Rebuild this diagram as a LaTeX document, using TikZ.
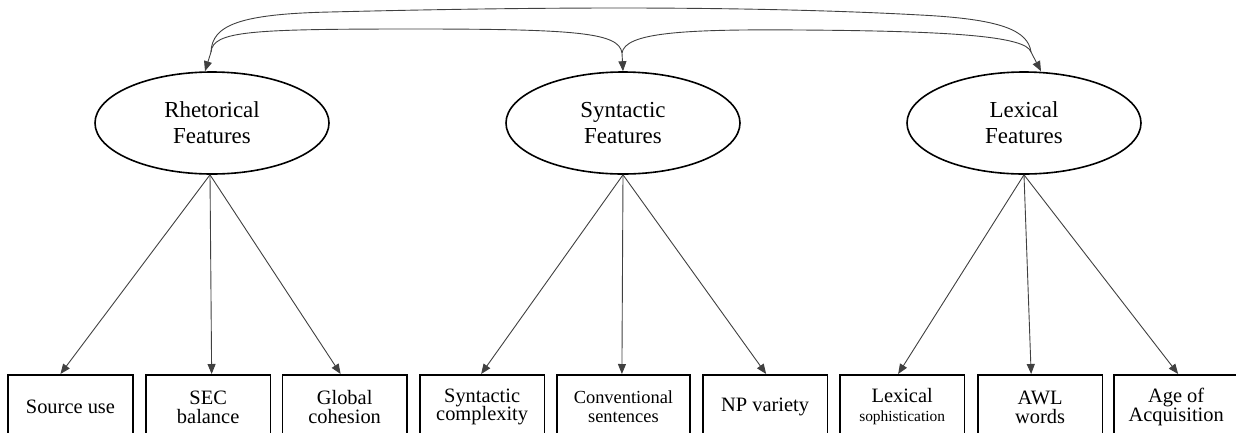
\documentclass[tikz,border=0pt]{standalone}
\usepackage{fontspec}
\setmainfont{Liberation Serif}
\newfontfamily\diagramfont{Liberation Serif}
\usetikzlibrary{arrows.meta,shapes.geometric}
\begin{document}
\begin{tikzpicture}[x=1bp,y=-1bp,
  every node/.style={font=\diagramfont},
  latent/.style={draw, line width=1.6bp, ellipse, minimum width=234bp, minimum height=102bp,
    inner sep=0pt, align=center, font=\diagramfont\fontsize{23}{26}\selectfont},
  indicator/.style={draw, line width=1.8bp, minimum width=124.5bp, minimum height=64bp,
    inner sep=0pt, anchor=north west, align=center, font=\diagramfont\fontsize{20.5}{19}\selectfont},
  load/.style={draw=black!75, line width=0.9bp, -{Triangle[length=10bp,width=8bp]}},
  cov/.style={draw=black!75, line width=0.9bp}]
\path[use as bounding box] (0,0) rectangle (1236,432);
\clip (0,0) rectangle (1236,432);

% latent factors
\node[latent] (R) at (212,123) {Rhetorical\\Features};
\node[latent] (S) at (623,123) {Syntactic\\Features};
\node[latent] (L) at (1024,123) {Lexical\\Features};

% observed indicators
\node[indicator] (b1) at (7.3,374) {Source use};
\node[indicator] (b2) at (145,374) {SEC\\balance};
\node[indicator] (b3) at (281.5,374) {Global\\cohesion};
\node[indicator] (b4) at (419,374) {Syntactic\\complexity};
\node[indicator, minimum width=133bp, font=\diagramfont\fontsize{18.5}{19}\selectfont] (b5) at (556,374) {Conventional\\sentences};
\node[indicator] (b6) at (702,374) {NP variety};
\node[indicator] (b7) at (839,374) {Lexical\\{\fontsize{15.5}{19}\selectfont sophistication}};
\node[indicator] (b8) at (977,374) {AWL\\words};
\node[indicator] (b9) at (1113,374) {Age of\\Acquisition};

% factor loadings
\draw[load] ([xshift=-2bp]R.south) -- ([xshift=-10bp]b1.north);
\draw[load] ([xshift=-2bp]R.south) -- ([xshift=3.5bp]b2.north);
\draw[load] ([xshift=-2bp]R.south) -- ([xshift=-4bp]b3.north);
\draw[load] (S.south) -- ([xshift=-1bp]b4.north);
\draw[load] (S.south) -- ([xshift=-1.5bp]b5.north);
\draw[load] (S.south) -- ([xshift=1bp]b6.north);
\draw[load] (L.south) -- ([xshift=-4bp]b7.north);
\draw[load] (L.south) -- ([xshift=-9bp]b8.north);
\draw[load] (L.south) -- ([xshift=2bp]b9.north);

% factor covariances
\coordinate (kR) at (211,52);
\coordinate (kS) at (622,53);
\coordinate (kL) at (1031,52);
\draw[cov] (kR) .. controls (212,25) and (240,14) .. (330,12)
  .. controls (450,9) and (540,8) .. (621,8)
  .. controls (720,8) and (830,10) .. (920,15)
  .. controls (1000,19) and (1028,30) .. (kL);
\draw[cov] (kR) .. controls (213,31) and (250,29) .. (415,29)
  .. controls (580,29) and (619,33) .. (kS);
\draw[cov] (kS) .. controls (625,33) and (680,29) .. (800,30)
  .. controls (950,31) and (1026,36) .. (kL);
\draw[load] (kR) -- ([xshift=-7bp]R.north);
\draw[load] (kS) -- (S.north);
\draw[load] (kL) -- ([xshift=17bp]L.north);
\end{tikzpicture}
\end{document}
